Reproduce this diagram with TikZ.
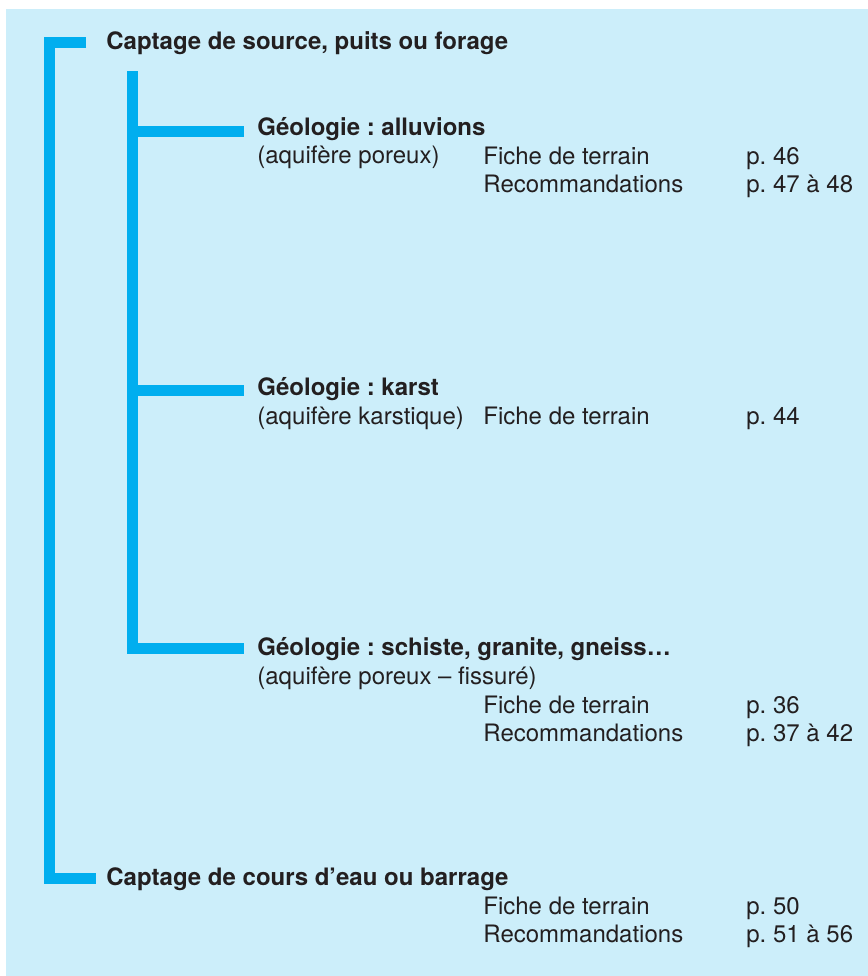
\documentclass[tikz,border=0pt]{standalone}
\usepackage{fontspec}
\setmainfont{TeX Gyre Heros}
\frenchspacing
\definecolor{mcyan}{RGB}{0,174,239}
\definecolor{mpale}{RGB}{204,238,250}
\definecolor{mtext}{RGB}{35,31,32}
\tikzset{bar/.style = {draw=mcyan, line width=5.5pt},
         head/.style = {anchor=base west, inner sep=0pt, text=mtext,
                        font=\fontsize{12}{14}\selectfont\bfseries},
         item/.style = {anchor=base west, inner sep=0pt, text=mtext,
                        font=\fontsize{12}{14}\selectfont}}

\begin{document}
\begin{tikzpicture}[x=0.5pt, y=-0.5pt]
    \useasboundingbox (0, 0) rectangle (868, 976);
    \fill [mpale] (6, 9) rectangle (868, 976);

    \node [head] (source) at (106, 49) {Captage de source, puits ou forage};

    \node [head] (alluv) at (257, 135) {Géologie : alluvions};
    \node [item] (alluvtype) at (257, 163) {(aquifère poreux)};
    \node [item] (alluvfiche) at (483, 164) {Fiche de terrain};
    \node [item] (alluvfichep) at (746, 164) {p. 46};
    \node [item] (alluvreco) at (483, 192) {Recommandations};
    \node [item] (alluvrecop) at (746, 192) {p. 47 à 48};

    \node [head] (karst) at (257, 395) {Géologie : karst};
    \node [item] (karsttype) at (257, 424) {(aquifère karstique)};
    \node [item] (karstfiche) at (483, 424) {Fiche de terrain};
    \node [item] (karstfichep) at (746, 424) {p. 44};

    \node [head] (schiste) at (257, 655) {Géologie : schiste, granite, gneiss…};
    \node [item] (schistetype) at (257, 684) {(aquifère poreux – fissuré)};
    \node [item] (schistefiche) at (483, 713) {Fiche de terrain};
    \node [item] (schistefichep) at (746, 713) {p. 36};
    \node [item] (schistereco) at (483, 741) {Recommandations};
    \node [item] (schisterecop) at (746, 741) {p. 37 à 42};

    \node [head] (eau) at (106, 885) {Captage de cours d’eau ou barrage};
    \node [item] (eaufiche) at (483, 914) {Fiche de terrain};
    \node [item] (eaufichep) at (746, 914) {p. 50};
    \node [item] (eaureco) at (483, 942) {Recommandations};
    \node [item] (eaurecop) at (746, 942) {p. 51 à 56};

    \coordinate (trunk) at (49.5, 0);
    \coordinate (srcend) at ([xshift=-10pt, yshift=3.5pt]source.base west);
    \coordinate (eauend) at ([xshift=-5pt, yshift=3.5pt]eau.base west);
    \draw [bar] (srcend) -| (trunk |- eauend) -- (eauend);

    \coordinate (subtop) at (132, 71);
    \coordinate (alluvend) at ([xshift=-6.5pt, yshift=1.75pt]alluv.base west);
    \coordinate (karstend) at ([xshift=-6.5pt, yshift=2.5pt]karst.base west);
    \coordinate (schisteend) at ([xshift=-6.5pt, yshift=3.25pt]schiste.base west);
    \draw [bar] (subtop) |- (schisteend);
    \draw [bar] (subtop |- alluvend) -- (alluvend);
    \draw [bar] (subtop |- karstend) -- (karstend);
\end{tikzpicture}
\end{document}
